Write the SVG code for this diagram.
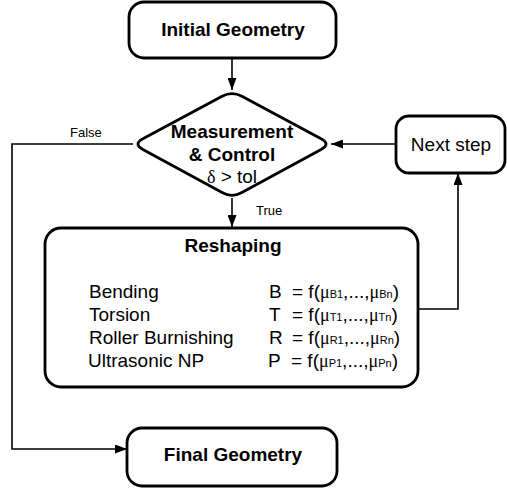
<svg xmlns="http://www.w3.org/2000/svg" width="507" height="490" viewBox="0 0 507 490">
<defs>
<marker id="arr" markerUnits="userSpaceOnUse" markerWidth="12" markerHeight="9" refX="12" refY="4.5" orient="auto">
<path d="M0,0 L12,4.5 L0,9 z" fill="#000"/>
</marker>
<style>
.box{fill:#fff;stroke:#000;stroke-width:2.8}
.con{fill:none;stroke:#000;stroke-width:1.6}
.t{font-family:"Liberation Sans",Arial,sans-serif;fill:#000}
.b{font-weight:bold;font-size:19px}
.n{font-size:19px}
.s{font-size:13px}
.sub{font-size:11px}
.mu{font-family:"Liberation Serif","Times New Roman",serif;font-size:18px}
</style>
</defs>
<rect width="507" height="490" fill="#fff"/>
<g id="connectors">
<path class="con" d="M232,58 L232,90" marker-end="url(#arr)"/>
<path class="con" d="M232,198 L232,227" marker-end="url(#arr)"/>
<path class="con" d="M133,144 L12,144 L12,449 L127,449" marker-end="url(#arr)"/>
<path class="con" d="M418,309 L458,309 L458,173" marker-end="url(#arr)"/>
<path class="con" d="M396,144 L331,144" marker-end="url(#arr)"/>
<text class="t s" x="70" y="137">False</text>
<text class="t s" x="256" y="215">True</text>
</g>
<g id="initial">
<rect class="box" x="129" y="2" width="207" height="56" rx="15"/>
<text class="t b" x="233" y="36" text-anchor="middle">Initial Geometry</text>
</g>
<g id="decision">
<path class="box" d="M142.9,138.7 L222.1,96.3 Q232,91 241.9,96.3 L321.1,138.7 Q331,144 321.1,149.4 L241.9,192.6 Q232,198 222.1,192.6 L142.9,149.4 Q133,144 142.9,138.7 Z"/>
<text class="t b" x="232" y="138" text-anchor="middle">Measurement</text>
<text class="t b" x="232" y="161" text-anchor="middle">&amp; Control</text>
<text class="t n" x="232" y="183" text-anchor="middle" font-size="17"><tspan class="mu" font-size="19">δ</tspan> &gt; tol</text>
</g>
<g id="next">
<rect class="box" x="396" y="116" width="109" height="57" rx="13"/>
<text class="t n" x="451" y="151" text-anchor="middle">Next step</text>
</g>
<g id="reshaping">
<rect class="box" x="45" y="228" width="373" height="159" rx="16"/>
<text class="t b" x="233" y="252" text-anchor="middle">Reshaping</text>
<text class="t n" x="89" y="298">Bending</text>
<text class="t n" x="89" y="321">Torsion</text>
<text class="t n" x="89" y="344">Roller Burnishing</text>
<text class="t n" x="88" y="367">Ultrasonic NP</text>
<text class="t n" x="269" y="298">B</text>
<text class="t n" x="269" y="321">T</text>
<text class="t n" x="269" y="344">R</text>
<text class="t n" x="268" y="367">P</text>
<text class="t n" x="292" y="298">= f(<tspan class="mu">μ</tspan><tspan class="sub">B1</tspan>,...,<tspan class="mu">μ</tspan><tspan class="sub">Bn</tspan>)</text>
<text class="t n" x="292" y="321">= f(<tspan class="mu">μ</tspan><tspan class="sub">T1</tspan>,...,<tspan class="mu">μ</tspan><tspan class="sub">Tn</tspan>)</text>
<text class="t n" x="292" y="344">= f(<tspan class="mu">μ</tspan><tspan class="sub">R1</tspan>,...,<tspan class="mu">μ</tspan><tspan class="sub">Rn</tspan>)</text>
<text class="t n" x="291" y="367">= f(<tspan class="mu">μ</tspan><tspan class="sub">P1</tspan>,...,<tspan class="mu">μ</tspan><tspan class="sub">Pn</tspan>)</text>
</g>
<g id="final">
<rect class="box" x="127" y="428" width="210" height="58" rx="15"/>
<text class="t b" x="233" y="461" text-anchor="middle">Final Geometry</text>
</g>
</svg>
